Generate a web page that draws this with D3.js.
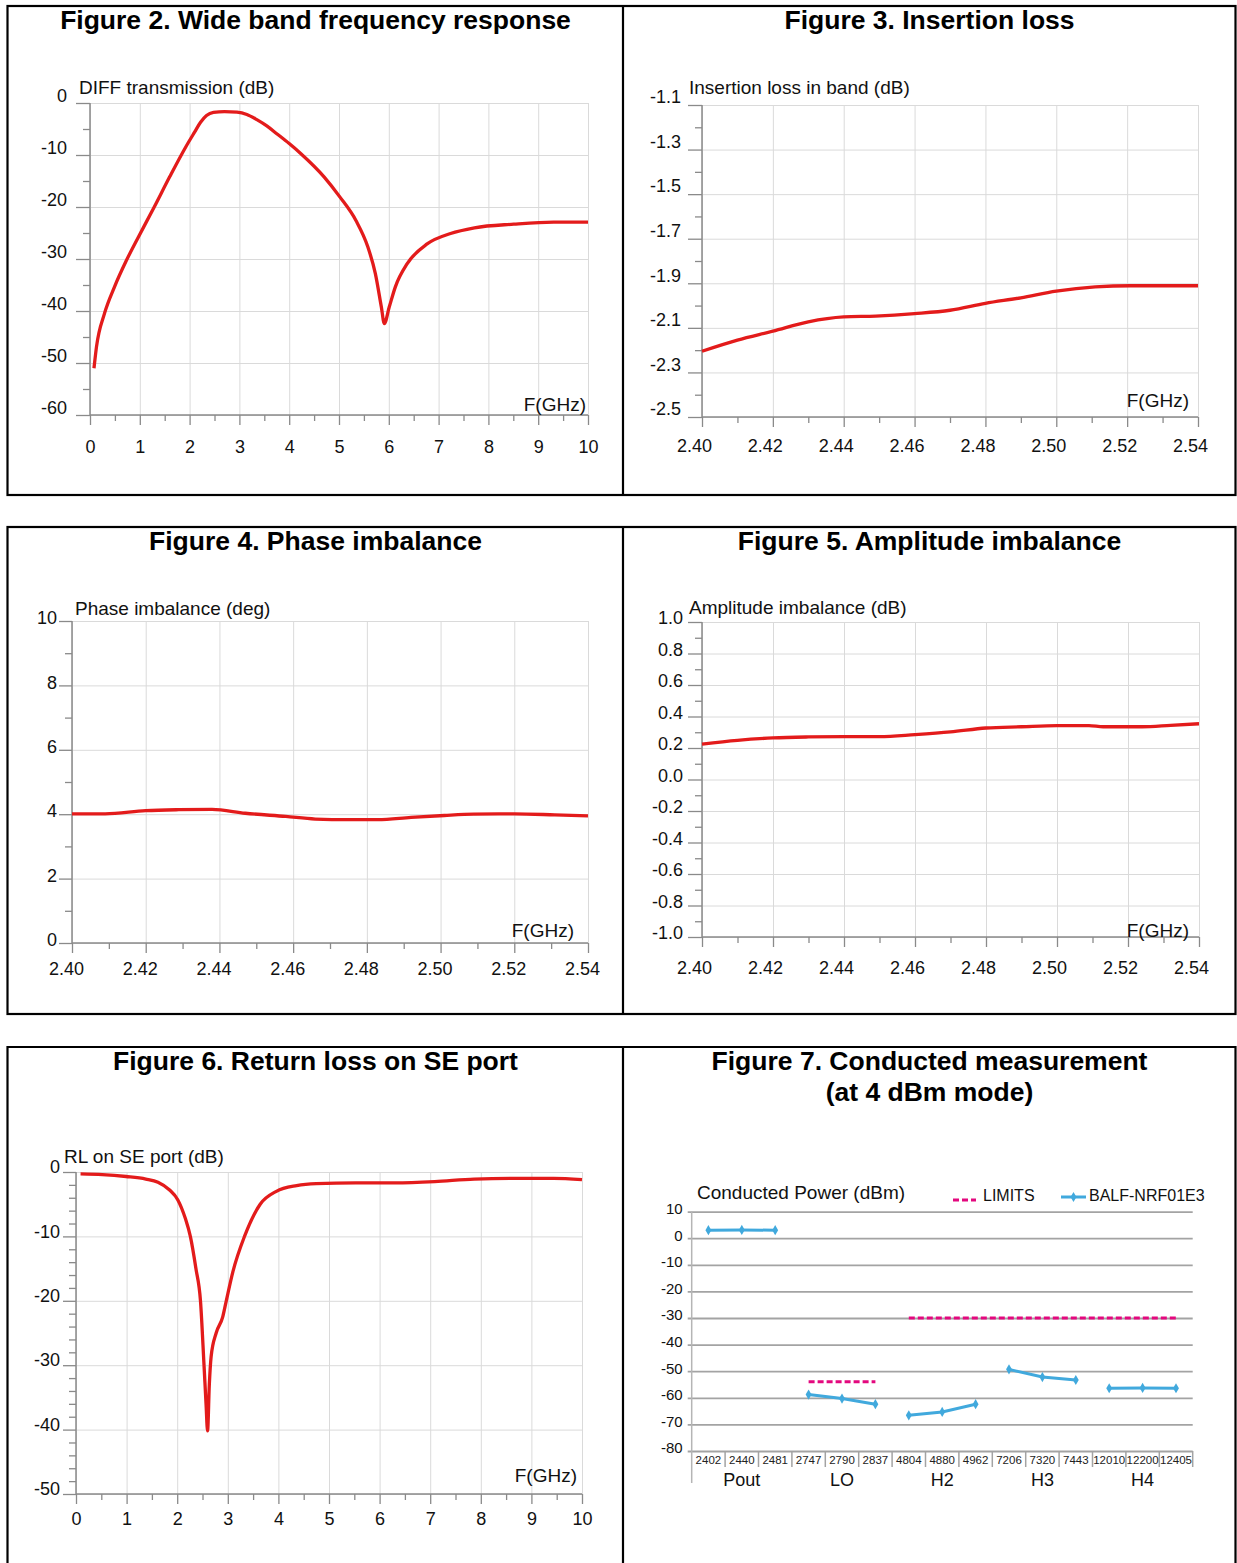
<!DOCTYPE html>
<html>
<head>
<meta charset="utf-8">
<script src="https://cdn.jsdelivr.net/npm/d3@7"></script>
<style>
  body { margin: 0; background: #fff; }
  svg { display: block; font-family: "Liberation Sans", Arial, sans-serif; }
</style>
</head>
<body>
<div id="chart"></div>
<script>
// ---- data ----

// Figure 2: wide band DIFF transmission (dB) vs F(GHz)
var fig2Freq = [0.08, 0.13, 0.29, 0.49, 0.73, 0.97, 1.29, 1.60, 1.92, 2.10, 2.22, 2.34, 2.48, 2.70, 2.95, 3.15, 3.35, 3.55, 3.75, 4.00, 4.23, 4.70, 5.02, 5.34, 5.58, 5.73, 5.85, 5.91, 6.01, 6.13, 6.37, 6.77, 7.24, 7.72, 8.51, 9.31, 10.0];
var fig2Db = [-51.0, -46.9, -40.5, -35.4, -30.3, -25.8, -20.0, -14.2, -8.5, -5.6, -3.7, -2.4, -1.8, -1.65, -1.75, -2.2, -3.2, -4.4, -5.9, -7.8, -9.7, -14.2, -18.1, -22.6, -27.7, -32.8, -39.2, -42.4, -39.2, -35.4, -30.9, -27.1, -25.1, -24.0, -23.3, -22.9, -22.9];

// Figure 3: insertion loss in band (dB)
var fig3Freq = [2.400, 2.410, 2.420, 2.430, 2.440, 2.449, 2.460, 2.470, 2.480, 2.490, 2.500, 2.511, 2.521, 2.540];
var fig3Db = [-2.205, -2.155, -2.115, -2.073, -2.051, -2.047, -2.036, -2.021, -1.990, -1.965, -1.935, -1.916, -1.911, -1.911];

// Figure 4: phase imbalance (deg)
var fig4Freq = [2.400, 2.409, 2.420, 2.429, 2.438, 2.447, 2.458, 2.466, 2.475, 2.483, 2.492, 2.501, 2.509, 2.520, 2.531, 2.540];
var fig4Deg = [4.01, 4.01, 4.11, 4.14, 4.15, 4.03, 3.93, 3.85, 3.83, 3.83, 3.90, 3.96, 4.00, 4.01, 3.98, 3.95];

// Figure 5: amplitude imbalance (dB)
var fig5Freq = [2.400, 2.410, 2.420, 2.430, 2.440, 2.450, 2.460, 2.470, 2.480, 2.490, 2.500, 2.509, 2.513, 2.524, 2.532, 2.540];
var fig5Db = [0.225, 0.249, 0.264, 0.270, 0.272, 0.272, 0.285, 0.302, 0.327, 0.335, 0.342, 0.342, 0.335, 0.335, 0.344, 0.354];

// Figure 6: RL on SE port (dB)
var fig6Freq = [0.09, 0.52, 0.99, 1.38, 1.62, 1.85, 2.01, 2.16, 2.26, 2.37, 2.46, 2.53, 2.57, 2.60, 2.635, 2.67, 2.77, 2.90, 2.97, 3.10, 3.33, 3.64, 3.96, 4.36, 4.75, 5.53, 6.31, 7.09, 7.87, 8.66, 9.44, 10.0];
var fig6Db = [-0.3, -0.4, -0.7, -1.1, -1.6, -2.8, -4.3, -7.2, -10.0, -15.0, -20.0, -30.0, -36.0, -40.2, -33.0, -28.7, -25.0, -22.5, -20.0, -15.5, -10.0, -5.0, -3.0, -2.1, -1.8, -1.7, -1.7, -1.5, -1.1, -1.0, -1.0, -1.2];

// Figure 7: conducted measurement
var fig7Categories = ['2402', '2440', '2481', '2747', '2790', '2837', '4804', '4880', '4962', '7206', '7320', '7443', '12010', '12200', '12405'];
var fig7Groups = ['Pout', 'LO', 'H2', 'H3', 'H4'];
var fig7Balf = [3.0, 3.1, 3.0, -58.8, -60.3, -62.4, -66.6, -65.3, -62.4, -49.3, -52.2, -53.3, -56.4, -56.3, -56.4];
var fig7Limits = [
    { from: '2747', to: '2837', value: -54 },
    { from: '4804', to: '12405', value: -30 }
];

// tick labels
var wideFreqTicks = [0, 1, 2, 3, 4, 5, 6, 7, 8, 9, 10];
var bandFreqTicks = [2.40, 2.42, 2.44, 2.46, 2.48, 2.50, 2.52, 2.54];
var fig2YTicks = [-60, -50, -40, -30, -20, -10, 0];
var fig3YTicks = [-2.5, -2.3, -2.1, -1.9, -1.7, -1.5, -1.3, -1.1];
var fig4YTicks = [0, 2, 4, 6, 8, 10];
var fig5YTicks = [-1.0, -0.8, -0.6, -0.4, -0.2, 0.0, 0.2, 0.4, 0.6, 0.8, 1.0];
var fig6YTicks = [-50, -40, -30, -20, -10, 0];
var fig7YTicks = [-80, -70, -60, -50, -40, -30, -20, -10, 0, 10];

// ---- drawing ----
var W = 1237, H = 1563;
var FONT = '"Liberation Sans", Arial, sans-serif';
var RED = '#e31b1b';
var AXIS = '#8a8a8a';
var GRID = '#dadada';

var svg = d3.select('#chart').append('svg').attr('width', W).attr('height', H);
svg.append('rect').attr('width', W).attr('height', H).attr('fill', '#fff');

// panel frames
var frame = svg.append('g').attr('stroke', '#000').attr('stroke-width', 2.2).attr('fill', 'none');
[[6, 495], [527, 1014]].forEach(function (r) {
    frame.append('rect').attr('x', 7.5).attr('y', r[0]).attr('width', 1228).attr('height', r[1] - r[0]);
    frame.append('line').attr('x1', 623).attr('x2', 623).attr('y1', r[0]).attr('y2', r[1]);
});
frame.append('path').attr('d', 'M7.5,1570V1047H1235.5V1570');
frame.append('line').attr('x1', 623).attr('x2', 623).attr('y1', 1047).attr('y2', 1570);

function title(text, cx, y) {
    svg.append('text').attr('x', cx).attr('y', y).attr('text-anchor', 'middle')
        .attr('font-size', 26.5).attr('font-weight', 'bold').attr('fill', '#000').text(text);
}
title('Figure 2. Wide band frequency response', 315.5, 29);
title('Figure 3. Insertion loss', 929.5, 29);
title('Figure 4. Phase imbalance', 315.5, 550);
title('Figure 5. Amplitude imbalance', 929.5, 550);
title('Figure 6. Return loss on SE port', 315.5, 1070);
title('Figure 7. Conducted measurement', 929.5, 1070);
title('(at 4 dBm mode)', 929.5, 1101);

function minorBetween(ticks, parts) {
    var out = [];
    for (var i = 0; i < ticks.length - 1; i++) {
        for (var k = 1; k < parts; k++) {
            out.push(ticks[i] + (ticks[i + 1] - ticks[i]) * k / parts);
        }
    }
    return out;
}

function drawPlot(cfg) {
    var g = svg.append('g');
    var x = d3.scaleLinear().domain(d3.extent(cfg.xTicks)).range([cfg.left, cfg.right]);
    var y = d3.scaleLinear().domain(d3.extent(cfg.yTicks)).range([cfg.bottom, cfg.top]);
    var w = cfg.right - cfg.left, h = cfg.bottom - cfg.top;

    // grid
    g.append('g').attr('transform', 'translate(0,' + cfg.bottom + ')')
        .call(d3.axisBottom(x).tickValues(cfg.xTicks).tickSize(-h).tickFormat(''))
        .call(function (a) { a.select('.domain').remove(); })
        .selectAll('line').attr('stroke', GRID);
    g.append('g').attr('transform', 'translate(' + cfg.left + ',0)')
        .call(d3.axisLeft(y).tickValues(cfg.yTicks).tickSize(-w).tickFormat(''))
        .call(function (a) { a.select('.domain').remove(); })
        .selectAll('line').attr('stroke', GRID);

    // minor ticks
    g.append('g').attr('transform', 'translate(0,' + cfg.bottom + ')')
        .call(d3.axisBottom(x).tickValues(minorBetween(cfg.xTicks, cfg.xParts)).tickSize(6).tickFormat(''))
        .call(function (a) { a.select('.domain').remove(); })
        .selectAll('line').attr('stroke', AXIS).attr('stroke-width', 1.3);
    g.append('g').attr('transform', 'translate(' + cfg.left + ',0)')
        .call(d3.axisLeft(y).tickValues(minorBetween(cfg.yTicks, cfg.yParts)).tickSize(7).tickFormat(''))
        .call(function (a) { a.select('.domain').remove(); })
        .selectAll('line').attr('stroke', AXIS).attr('stroke-width', 1.3);

    // major ticks + labels
    var xa = g.append('g').attr('transform', 'translate(0,' + cfg.bottom + ')')
        .call(d3.axisBottom(x).tickValues(cfg.xTicks).tickSize(10)
            .tickFormat(function (d) { return d.toFixed(cfg.xDec); }))
        .call(function (a) { a.select('.domain').remove(); });
    xa.selectAll('line').attr('stroke', AXIS).attr('stroke-width', 1.3);
    xa.selectAll('text').attr('y', cfg.xLabelY).attr('dy', '0.35em').attr('x', cfg.xShift)
        .attr('font-size', 18).attr('font-family', FONT).attr('fill', '#111');

    var ya = g.append('g').attr('transform', 'translate(' + cfg.left + ',0)')
        .call(d3.axisLeft(y).tickValues(cfg.yTicks).tickSize(cfg.yTick).tickPadding(cfg.yPad)
            .tickFormat(function (d) { return d.toFixed(cfg.yDec); }))
        .call(function (a) { a.select('.domain').remove(); });
    ya.selectAll('line').attr('stroke', AXIS).attr('stroke-width', 1.3);
    ya.selectAll('text').attr('y', -cfg.yLabelUp).attr('font-size', 18)
        .attr('font-family', FONT).attr('fill', '#111');

    // axis lines
    g.append('line').attr('x1', cfg.left).attr('x2', cfg.left).attr('y1', cfg.top).attr('y2', cfg.bottom)
        .attr('stroke', AXIS).attr('stroke-width', 1.5);
    g.append('line').attr('x1', cfg.left).attr('x2', cfg.right).attr('y1', cfg.bottom).attr('y2', cfg.bottom)
        .attr('stroke', AXIS).attr('stroke-width', 1.5);

    // titles
    g.append('text').attr('x', cfg.titleX).attr('y', cfg.titleY).attr('font-size', 19)
        .attr('fill', '#111').text(cfg.yTitle);
    g.append('text').attr('x', cfg.fX).attr('y', cfg.fY).attr('font-size', 19)
        .attr('text-anchor', 'end').attr('fill', '#111').text('F(GHz)');

    // curve
    var pts = cfg.xs.map(function (d, i) { return [d, cfg.ys[i]]; });
    var line = d3.line()
        .x(function (d) { return x(d[0]); })
        .y(function (d) { return y(d[1]); })
        .curve(d3.curveMonotoneX);
    g.append('path').datum(pts).attr('d', line).attr('fill', 'none')
        .attr('stroke', RED).attr('stroke-width', 3.3).attr('stroke-linejoin', 'round');
}

drawPlot({
    left: 90, right: 588, top: 103, bottom: 415,
    xTicks: wideFreqTicks, xParts: 2, xDec: 0, xLabelY: 32, xShift: 0,
    yTicks: fig2YTicks, yParts: 2, yDec: 0, yTick: 14, yPad: 9, yLabelUp: 7,
    yTitle: 'DIFF transmission (dB)', titleX: 79, titleY: 94, fX: 586, fY: 411,
    xs: fig2Freq, ys: fig2Db
});
drawPlot({
    left: 702, right: 1198, top: 105, bottom: 417,
    xTicks: bandFreqTicks, xParts: 2, xDec: 2, xLabelY: 29, xShift: -8,
    yTicks: fig3YTicks, yParts: 2, yDec: 1, yTick: 14, yPad: 7, yLabelUp: 8,
    yTitle: 'Insertion loss in band (dB)', titleX: 689, titleY: 94, fX: 1189, fY: 407,
    xs: fig3Freq, ys: fig3Db
});
drawPlot({
    left: 72, right: 588, top: 621, bottom: 943,
    xTicks: bandFreqTicks, xParts: 2, xDec: 2, xLabelY: 26, xShift: -6,
    yTicks: fig4YTicks, yParts: 2, yDec: 0, yTick: 13, yPad: 2, yLabelUp: 3,
    yTitle: 'Phase imbalance (deg)', titleX: 75, titleY: 615, fX: 574, fY: 937,
    xs: fig4Freq, ys: fig4Deg
});
drawPlot({
    left: 702, right: 1199, top: 622, bottom: 937,
    xTicks: bandFreqTicks, xParts: 2, xDec: 2, xLabelY: 31, xShift: -8,
    yTicks: fig5YTicks, yParts: 2, yDec: 1, yTick: 14, yPad: 5, yLabelUp: 4,
    yTitle: 'Amplitude imbalance (dB)', titleX: 689, titleY: 614, fX: 1189, fY: 937,
    xs: fig5Freq, ys: fig5Db
});
drawPlot({
    left: 76, right: 582, top: 1172, bottom: 1494,
    xTicks: wideFreqTicks, xParts: 2, xDec: 0, xLabelY: 25, xShift: 0,
    yTicks: fig6YTicks, yParts: 5, yDec: 0, yTick: 13, yPad: 3, yLabelUp: 5,
    yTitle: 'RL on SE port (dB)', titleX: 64, titleY: 1163, fX: 577, fY: 1482,
    xs: fig6Freq, ys: fig6Db
});

// ---- Figure 7 ----
var BLUE = '#41a9dd';
var MAGENTA = '#e3087e';
var g7 = svg.append('g');
var xb = d3.scaleBand().domain(fig7Categories).range([691.7, 1192.7]);
var y7 = d3.scaleLinear().domain([-80, 10]).range([1451, 1211.6]);
var bw = xb.bandwidth();
var cx = function (c) { return xb(c) + bw / 2; };

// horizontal grid + y labels
var ya7 = g7.append('g').attr('transform', 'translate(691.7,0)')
    .call(d3.axisLeft(y7).tickValues(fig7YTicks).tickSizeInner(-(1192.7 - 691.7)).tickPadding(9)
        .tickFormat(function (d) { return String(d); }))
    .call(function (a) { a.select('.domain').remove(); });
ya7.selectAll('line').attr('x1', -4).attr('stroke', '#a3a3a3').attr('stroke-width', 1.8);
ya7.selectAll('text').attr('y', -3).attr('font-size', 15).attr('font-family', FONT).attr('fill', '#111');

// y axis line
g7.append('line').attr('x1', 691.7).attr('x2', 691.7).attr('y1', y7(10)).attr('y2', 1483)
    .attr('stroke', '#b5b5b5').attr('stroke-width', 1.5);

// category separators
g7.append('g').selectAll('line').data(fig7Categories.slice(1).concat(['end']))
    .enter().append('line')
    .attr('x1', function (d) { return d === 'end' ? xb.range()[1] : xb(d); })
    .attr('x2', function (d) { return d === 'end' ? xb.range()[1] : xb(d); })
    .attr('y1', y7(-80)).attr('y2', 1467)
    .attr('stroke', '#a3a3a3').attr('stroke-width', 1.5);

// category labels
var xa7 = g7.append('g').attr('transform', 'translate(0,' + y7(-80) + ')')
    .call(d3.axisBottom(xb).tickSize(0))
    .call(function (a) { a.select('.domain').remove(); });
xa7.selectAll('text').attr('y', 8.5).attr('dy', '0.35em').attr('font-size', 11.5)
    .attr('font-family', FONT).attr('fill', '#222');

// group labels
g7.append('g').selectAll('text').data(fig7Groups).enter().append('text')
    .attr('x', function (d, i) { return cx(fig7Categories[i * 3 + 1]); })
    .attr('y', 1486).attr('text-anchor', 'middle').attr('font-size', 18).attr('fill', '#111')
    .text(function (d) { return d; });

// limits
var lim = d3.line().x(function (d) { return cx(d[0]); }).y(function (d) { return y7(d[1]); });
g7.append('g').selectAll('path').data(fig7Limits).enter().append('path')
    .attr('d', function (d) { return lim([[d.from, d.value], [d.to, d.value]]); })
    .attr('fill', 'none').attr('stroke', MAGENTA).attr('stroke-width', 3).attr('stroke-dasharray', '6,3');

// measured series, broken between groups
var balfPts = fig7Categories.map(function (c, i) { return { cat: c, v: fig7Balf[i], grp: fig7Groups[Math.floor(i / 3)] }; });
var balfLine = d3.line().x(function (d) { return cx(d.cat); }).y(function (d) { return y7(d.v); });
g7.append('g').selectAll('path').data(Array.from(d3.group(balfPts, function (d) { return d.grp; }).values()))
    .enter().append('path')
    .attr('d', balfLine).attr('fill', 'none').attr('stroke', BLUE).attr('stroke-width', 3);
var diamond = d3.symbol().type(d3.symbolDiamond).size(30);
g7.append('g').selectAll('path').data(balfPts).enter().append('path')
    .attr('d', diamond)
    .attr('transform', function (d) { return 'translate(' + cx(d.cat) + ',' + y7(d.v) + ')'; })
    .attr('fill', BLUE);

// axis title and legend
g7.append('text').attr('x', 697).attr('y', 1199).attr('font-size', 19).attr('fill', '#111')
    .text('Conducted Power (dBm)');
g7.append('line').attr('x1', 953).attr('x2', 976).attr('y1', 1200).attr('y2', 1200)
    .attr('stroke', MAGENTA).attr('stroke-width', 3).attr('stroke-dasharray', '6,3');
g7.append('text').attr('x', 983).attr('y', 1201).attr('font-size', 16).attr('fill', '#111').text('LIMITS');
g7.append('line').attr('x1', 1061).attr('x2', 1086).attr('y1', 1197).attr('y2', 1197)
    .attr('stroke', BLUE).attr('stroke-width', 3);
g7.append('path').attr('d', diamond).attr('transform', 'translate(1073.5,1197)').attr('fill', BLUE);
g7.append('text').attr('x', 1089).attr('y', 1201).attr('font-size', 16).attr('fill', '#111').text('BALF-NRF01E3');
</script>
</body>
</html>
